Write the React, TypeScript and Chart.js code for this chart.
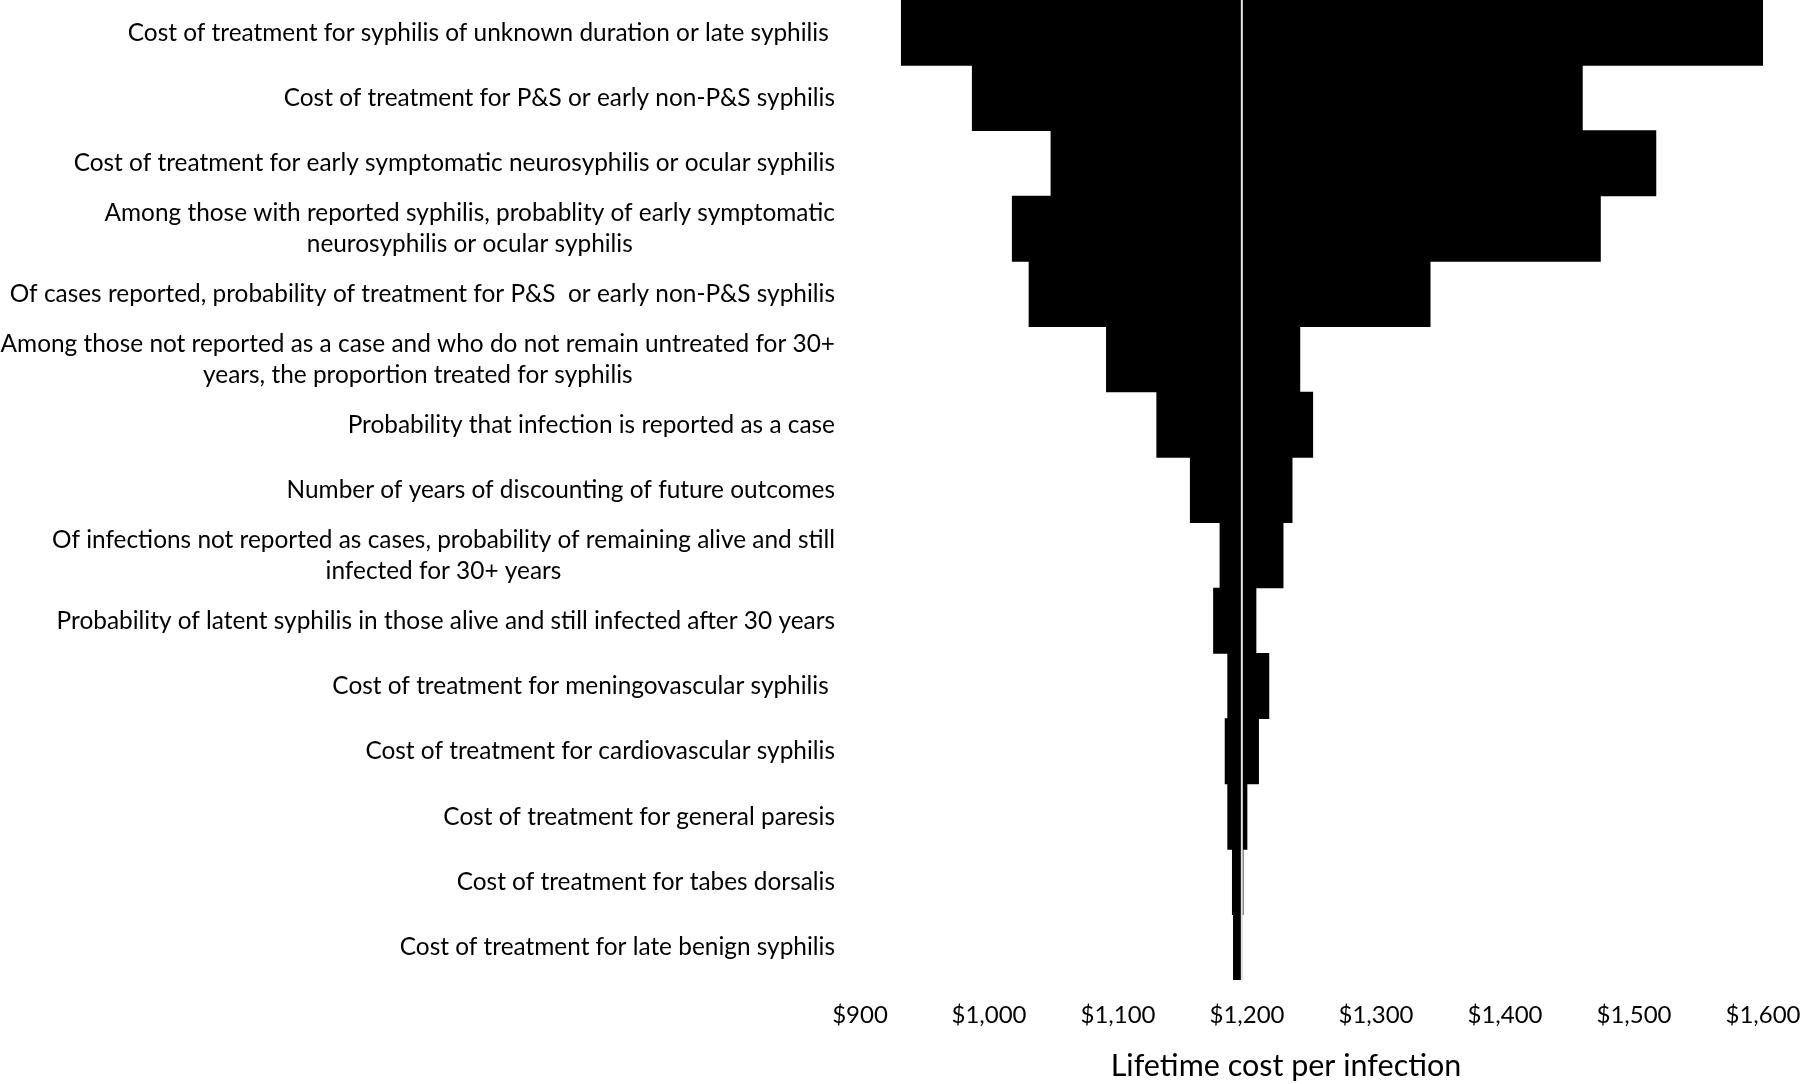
import React, { useEffect, useRef } from "react";
import { Chart, registerables } from "chart.js";

Chart.register(...registerables);

// Parameters (each label is a list of lines)
const categories: string[][] = [
  ["Cost of treatment for syphilis of unknown duration or late syphilis "],
  ["Cost of treatment for P&S or early non-P&S syphilis"],
  ["Cost of treatment for early symptomatic neurosyphilis or ocular syphilis"],
  ["Among those with reported syphilis, probablity of early symptomatic", "neurosyphilis or ocular syphilis"],
  ["Of cases reported, probability of treatment for P&S  or early non-P&S syphilis"],
  ["Among those not reported as a case and who do not remain untreated for 30+", "years, the proportion treated for syphilis"],
  ["Probability that infection is reported as a case"],
  ["Number of years of discounting of future outcomes"],
  ["Of infections not reported as cases, probability of remaining alive and still", "infected for 30+ years"],
  ["Probability of latent syphilis in those alive and still infected after 30 years"],
  ["Cost of treatment for meningovascular syphilis "],
  ["Cost of treatment for cardiovascular syphilis"],
  ["Cost of treatment for general paresis"],
  ["Cost of treatment for tabes dorsalis"],
  ["Cost of treatment for late benign syphilis"],
];

// Lifetime cost per infection at the low / high end of each parameter range
const lowValues = [932, 987, 1048, 1018, 1031, 1091, 1130, 1156, 1179, 1174, 1185, 1183, 1185, 1188.6, 1189.4];
const highValues = [1602, 1460, 1517, 1474, 1342, 1241, 1251, 1235, 1228, 1207, 1217, 1209, 1200, 1197, 1196];

const baseValue = 1196;
const xMin = 900;
const xMax = 1600;
const xStep = 100;
const axisTitle = "Lifetime cost per infection";

export default function App() {
  const ref = useRef<HTMLCanvasElement>(null);

  useEffect(() => {
    const canvas = ref.current!;

    const labelPlugin = {
      id: "tornadoLabels",
      afterDraw(chart: any) {
        const { ctx, chartArea, scales } = chart;
        const yScale = scales.y;
        ctx.save();
        ctx.fillStyle = "#000";
        ctx.textBaseline = "middle";
        ctx.textAlign = "center";
        ctx.font = "24.4px Lato";
        const right = chartArea.left - 25;
        const lh = 31;
        categories.forEach((lines, i) => {
          const cy = yScale.getPixelForValue(i);
          const w = Math.max(...lines.map((l) => ctx.measureText(l).width));
          const cx = right - w / 2;
          lines.forEach((l, j) => {
            ctx.fillText(l, cx, cy + (j - (lines.length - 1) / 2) * lh);
          });
        });
        ctx.font = "30.5px Lato";
        ctx.fillText(axisTitle, 1286, 1066);
        ctx.restore();
      },
    };

    const baseLinePlugin = {
      id: "baseLine",
      afterDatasetsDraw(chart: any) {
        const { ctx, chartArea, scales } = chart;
        const x = scales.x.getPixelForValue(baseValue);
        ctx.save();
        ctx.strokeStyle = "#e4e4e4";
        ctx.lineWidth = 2;
        ctx.beginPath();
        ctx.moveTo(x, chartArea.top);
        ctx.lineTo(x, chartArea.bottom);
        ctx.stroke();
        ctx.restore();
      },
    };

    const chart = new Chart(canvas, {
      type: "bar",
      data: {
        labels: categories.map((c) => c.join(" ")),
        datasets: [
          {
            data: lowValues.map((l, i) => [l, highValues[i]]),
            backgroundColor: "#000",
            borderWidth: 0,
            barPercentage: 1,
            categoryPercentage: 1,
          } as any,
        ],
      },
      options: {
        indexAxis: "y",
        responsive: false,
        animation: false,
        layout: { padding: { left: 860, right: 37, top: 0, bottom: 0 } },
        plugins: { legend: { display: false }, tooltip: { enabled: false } },
        scales: {
          x: {
            min: xMin,
            max: xMax,
            ticks: {
              stepSize: xStep,
              callback: (v: any) => "$" + Number(v).toLocaleString("en-US"),
              font: { family: "Lato", size: 24 },
              color: "#000",
              padding: 21,
              maxRotation: 0,
              autoSkip: false,
            },
            grid: { display: false, drawTicks: false },
            border: { display: false },
            afterFit: (s: any) => {
              s.height = 104;
              s.paddingLeft = 0;
              s.paddingRight = 0;
            },
          },
          y: {
            display: false,
            grid: { display: false },
          },
        },
      },
      plugins: [baseLinePlugin, labelPlugin],
    });

    return () => chart.destroy();
  }, []);

  return (
    <div style={{ position: "absolute", left: 0, top: 0, width: 1800, height: 1084 }}>
      <canvas ref={ref} width={1800} height={1084} style={{ display: "block", width: 1800, height: 1084 }} />
    </div>
  );
}
